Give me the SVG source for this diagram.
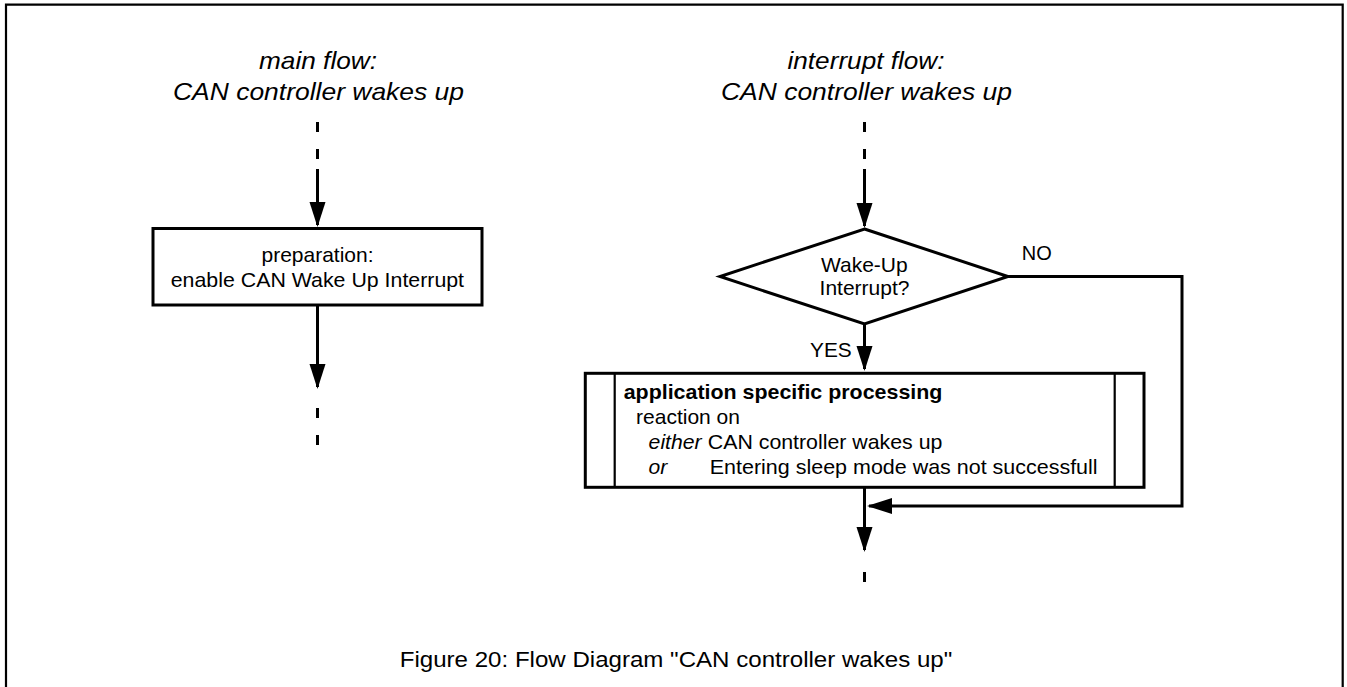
<svg xmlns="http://www.w3.org/2000/svg" width="1347" height="687" viewBox="0 0 1347 687">
<style>
text{font-family:"Liberation Sans",Arial,sans-serif;fill:#000}
.t{font-size:24px;font-style:italic;text-anchor:middle}
.b{font-size:21px}
.c{text-anchor:middle}
.i{font-style:italic}
.bd{font-weight:bold}
.cap{font-size:22px;text-anchor:middle}
.ln{fill:none;stroke:#000;stroke-width:3}
.bx{fill:#fff;stroke:#000;stroke-width:3;stroke-linejoin:miter}
.in{fill:none;stroke:#000;stroke-width:2.2}
</style>
<defs>
<marker id="ah" markerUnits="userSpaceOnUse" markerWidth="26" markerHeight="17" refX="23" refY="8" orient="auto">
<path d="M0,0 L25,8 L0,16 Z" fill="#000"/>
</marker>
</defs>
<path id="frame" d="M6,687 V4.7 H1342.7 V687" fill="none" stroke="#000" stroke-width="2.2"/>
<g id="title-main">
<text class="t" x="318" y="69" textLength="118" lengthAdjust="spacingAndGlyphs">main flow:</text>
<text class="t" x="318.5" y="100" textLength="291" lengthAdjust="spacingAndGlyphs">CAN controller wakes up</text>
</g>
<g id="title-interrupt">
<text class="t" x="866" y="69" textLength="157" lengthAdjust="spacingAndGlyphs">interrupt flow:</text>
<text class="t" x="866.5" y="100" textLength="291" lengthAdjust="spacingAndGlyphs">CAN controller wakes up</text>
</g>
<g id="connectors">
<path class="ln" d="M317.5,122 V132 M317.5,149 V159"/>
<path class="ln" d="M317.5,169 V225" marker-end="url(#ah)"/>
<path class="ln" d="M317.5,305 V387" marker-end="url(#ah)"/>
<path class="ln" d="M317.5,408 V418 M317.5,435 V445"/>
<path class="ln" d="M864.5,122 V132 M864.5,149 V159"/>
<path class="ln" d="M864.5,169 V226" marker-end="url(#ah)"/>
<path class="ln" d="M864.5,324 V369" marker-end="url(#ah)"/>
<path class="ln" d="M864.5,487 V550" marker-end="url(#ah)"/>
<path class="ln" d="M864.5,572 V582"/>
<path class="ln" d="M1008,276.5 H1182 V506 H869" marker-end="url(#ah)"/>
<text class="b" x="810" y="356.7" textLength="41.7" lengthAdjust="spacingAndGlyphs">YES</text>
<text class="b" x="1021.7" y="260" textLength="30" lengthAdjust="spacingAndGlyphs">NO</text>
</g>
<g id="node-preparation">
<rect class="bx" x="153" y="228.5" width="329" height="76.5"/>
<text class="b c" x="317.5" y="262.3">preparation:</text>
<text class="b c" x="317.4" y="286.7" textLength="293.3" lengthAdjust="spacingAndGlyphs">enable CAN Wake Up Interrupt</text>
</g>
<g id="node-decision">
<polygon class="bx" points="864.5,229 1008,276.5 864.5,324 720,276.5"/>
<text class="b c" x="864.3" y="271.7">Wake-Up</text>
<text class="b c" x="864.5" y="295">Interrupt?</text>
</g>
<g id="node-processing">
<rect class="bx" x="585.3" y="373.3" width="558.7" height="114"/>
<path class="in" d="M614.7,373.3 V487.3 M1114.7,373.3 V487.3"/>
<text class="b bd" x="623.7" y="399.3" textLength="318.7" lengthAdjust="spacingAndGlyphs">application specific processing</text>
<text class="b" x="636" y="424.3" textLength="104" lengthAdjust="spacingAndGlyphs">reaction on</text>
<text class="b i" x="648.6" y="449.3" textLength="53" lengthAdjust="spacingAndGlyphs">either</text>
<text class="b" x="707.8" y="449.3" textLength="234.6" lengthAdjust="spacingAndGlyphs">CAN controller wakes up</text>
<text class="b i" x="648.6" y="474.3">or</text>
<text class="b" x="709.8" y="474.3" textLength="387.8" lengthAdjust="spacingAndGlyphs">Entering sleep mode was not successfull</text>
</g>
<text id="caption" class="cap" x="676" y="666.7" textLength="552.5" lengthAdjust="spacingAndGlyphs">Figure 20: Flow Diagram "CAN controller wakes up"</text>
</svg>
